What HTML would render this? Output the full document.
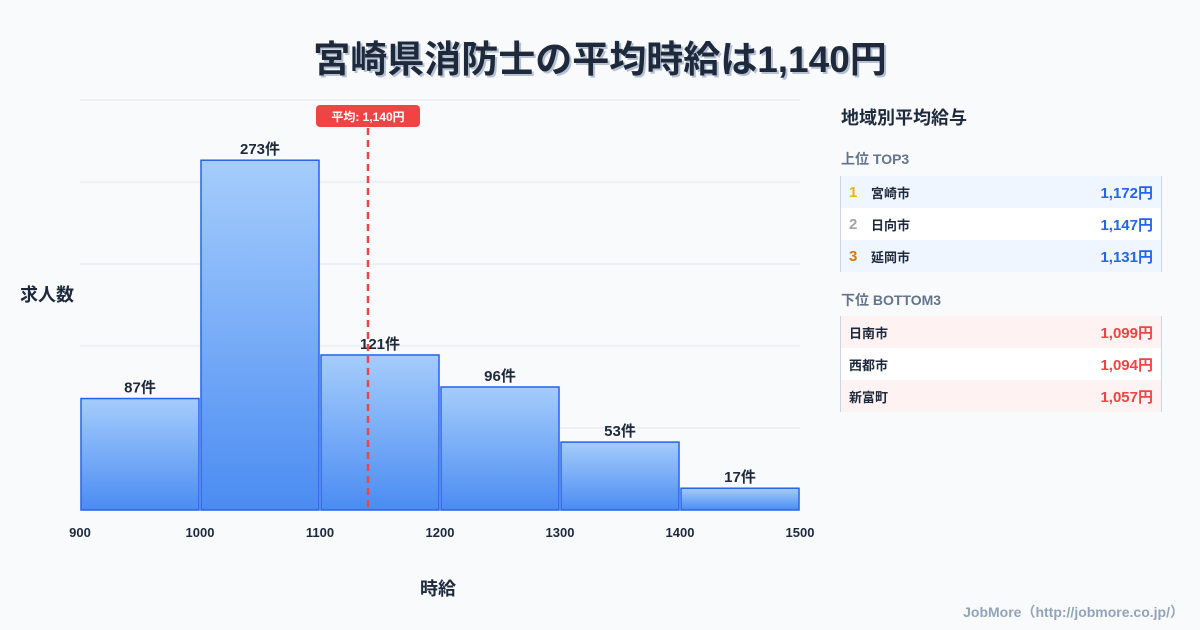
<!DOCTYPE html>
<html><head><meta charset="utf-8"><style>
body{margin:0;width:1200px;height:630px;background:#f8fafc;font-family:"Liberation Sans","Noto Sans CJK JP",sans-serif;position:relative;overflow:hidden;color:#1e293b}
.t{position:absolute;font-weight:bold}
.tbl{position:absolute;left:840px;width:320px;border-left:1px solid #cbd5e1;border-right:1px solid #cbd5e1}
.row{height:32px;display:flex;align-items:center;font-size:13px;font-weight:bold;padding:0 8px;box-sizing:border-box}
.n{width:22px;font-size:15px}
.v{margin-left:auto;font-size:15px}
</style></head><body>
<div class="t" style="left:0;width:1200px;text-align:center;top:29px;font-size:37px;text-shadow:2px 2px 0 #b6c2d4">宮崎県消防士の平均時給は1,140円</div>
<svg id="c" width="1200" height="630" style="position:absolute;left:0;top:0">
<defs><linearGradient id="g" x1="0" y1="0" x2="0" y2="1"><stop offset="0" stop-color="#a5cdfc"/><stop offset="1" stop-color="#4b8cf2"/></linearGradient></defs>
</svg>
<div class="t" style="left:20px;top:281px;font-size:18px">求人数</div>
<div class="t" style="left:420px;top:575px;font-size:18px">時給</div>
<div class="t" style="left:841px;top:104px;font-size:18px">地域別平均給与</div>
<div class="t" style="left:841px;top:149px;font-size:14px;color:#64748b">上位 TOP3</div>
<div class="tbl" style="top:176px">
<div class="row" style="background:#eff6ff"><span class="n" style="color:#eab308">1</span><span>宮崎市</span><span class="v" style="color:#2563eb">1,172円</span></div>
<div class="row" style="background:#fff"><span class="n" style="color:#9ca3af">2</span><span>日向市</span><span class="v" style="color:#2563eb">1,147円</span></div>
<div class="row" style="background:#eff6ff"><span class="n" style="color:#d97706">3</span><span>延岡市</span><span class="v" style="color:#2563eb">1,131円</span></div>
</div>
<div class="t" style="left:841px;top:290px;font-size:14px;color:#64748b">下位 BOTTOM3</div>
<div class="tbl" style="top:316px">
<div class="row" style="background:#fef2f2"><span>日南市</span><span class="v" style="color:#ef4444">1,099円</span></div>
<div class="row" style="background:#fff"><span>西都市</span><span class="v" style="color:#ef4444">1,094円</span></div>
<div class="row" style="background:#fef2f2"><span>新富町</span><span class="v" style="color:#ef4444">1,057円</span></div>
</div>
<div class="t" style="right:16px;top:602px;font-size:14px;color:#94a3b8">JobMore（http://jobmore.co.jp/）</div>
<script>
const binStarts=[900,1000,1100,1200,1300,1400];
const counts=[87,273,121,96,53,17];
const xTicks=[900,1000,1100,1200,1300,1400,1500];
const meanValue=1140;
const meanLabel="平均: 1,140円";
const yMax=320, yStep=64;
const X=v=>80+(v-900)*1.2, Y=v=>510-v*410/yMax;
const svg=document.getElementById('c'),NS='http://www.w3.org/2000/svg';
function mk(t,a,p){const e=document.createElementNS(NS,t);for(const k in a)e.setAttribute(k,a[k]);(p||svg).appendChild(e);return e;}
for(let v=yStep;v<=yMax;v+=yStep){const l=mk('line',{x1:80,x2:800,y1:Y(v),y2:Y(v),stroke:'#e2e8f0','stroke-width':1});

}
const base=mk('line',{x1:80,x2:800,y1:510,y2:510,stroke:'#cbd5e1'});


binStarts.forEach((b,i)=>{const x0=X(b)+1,x1=X(b+100)-1,y=Y(counts[i]);
const r=mk('rect',{x:x0,y:y,width:x1-x0,height:510-y,fill:'url(#g)',stroke:'#2563eb','stroke-width':1.5});


const t=mk('text',{x:(x0+x1)/2,y:y-6,'text-anchor':'middle','font-size':15,'font-weight':'bold',fill:'#1e293b'});t.textContent=counts[i]+'件';

});
xTicks.forEach(v=>{const t=mk('text',{x:X(v),y:537,'text-anchor':'middle','font-size':13,'font-weight':'bold',fill:'#1e293b'});t.textContent=v;

});
const mx=X(meanValue);
const ml=mk('line',{x1:mx,x2:mx,y1:128,y2:510,stroke:'#ef4444','stroke-width':2.5,'stroke-dasharray':'7,5'});


const mb=mk('rect',{x:mx-52,y:105,width:104,height:22,rx:4,fill:'#ef4444'});


const mt=mk('text',{x:mx,y:121,'text-anchor':'middle','font-size':12,'font-weight':'bold',fill:'#fff'});mt.textContent=meanLabel;


</script>
</body></html>
